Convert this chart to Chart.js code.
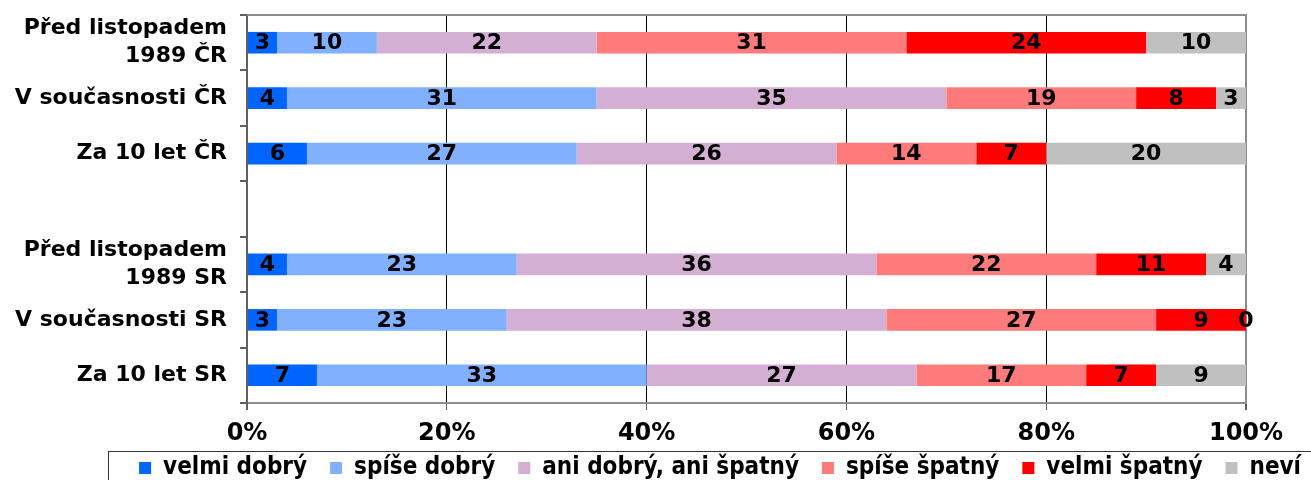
<!DOCTYPE html>
<html>
<head>
<meta charset="utf-8">
<script src="https://cdn.jsdelivr.net/npm/chart.js@4.4.1/dist/chart.umd.min.js"></script>
<style>
  html, body { margin: 0; padding: 0; background: #fff; }
</style>
</head>
<body>
<canvas id="myChart" width="1311" height="480"></canvas>
<script>
// data (percent of respondents)
const categories = [['Před listopadem', '1989 ČR'], 'V současnosti ČR', 'Za 10 let ČR', '',
                    ['Před listopadem', '1989 SR'], 'V současnosti SR', 'Za 10 let SR'];
const seriesNames = ['velmi dobrý', 'spíše dobrý', 'ani dobrý, ani špatný', 'spíše špatný', 'velmi špatný', 'neví'];
const velmiDobry  = [3, 4, 6, null, 4, 3, 7];
const spiseDobry  = [10, 31, 27, null, 23, 23, 33];
const aniAni      = [22, 35, 26, null, 36, 38, 27];
const spiseSpatny = [31, 19, 14, null, 22, 27, 17];
const velmiSpatny = [24, 8, 7, null, 11, 9, 7];
const nevi        = [10, 3, 20, null, 4, 0, 9];
const tickLabels  = ['0%', '20%', '40%', '60%', '80%', '100%'];

const colors = ['#0064ff', '#80b0ff', '#d3afd3', '#ff7b7b', '#ff0000', '#c0c0c0'];
const values = [velmiDobry, spiseDobry, aniAni, spiseSpatny, velmiSpatny, nevi];

const fontFamily = "'DejaVu Sans', Verdana, sans-serif";

// numbers in the middle of every segment
const barLabels = {
    id: 'barLabels',
    afterDatasetsDraw(chart) {
        const ctx = chart.ctx;
        ctx.save();
        ctx.font = 'bold 22px ' + fontFamily;
        ctx.fillStyle = '#000';
        ctx.textAlign = 'center';
        ctx.textBaseline = 'middle';
        chart.data.datasets.forEach((ds, i) => {
            const meta = chart.getDatasetMeta(i);
            meta.data.forEach((bar, j) => {
                const v = ds.data[j];
                if (v === null || v === undefined) return;
                ctx.fillText(String(v), (bar.x + bar.base) / 2, bar.y + 1);
            });
        });
        ctx.restore();
    }
};

// top border of the plot, legend placement and the frame round the legend
const frame = {
    id: 'frame',
    afterLayout(chart) {
        const lg = chart.legend;
        const dy = 433 - lg.top;
        lg.top += dy;
        lg.bottom += dy;
        lg.left += 78;
        lg.right += 78;
    },
    afterDraw(chart) {
        const ctx = chart.ctx;
        const a = chart.chartArea;
        ctx.save();
        ctx.strokeStyle = '#8c8c8c';
        ctx.lineWidth = 2;
        ctx.beginPath();
        ctx.moveTo(a.left, a.top);
        ctx.lineTo(a.right + 1, a.top);
        ctx.stroke();
        ctx.strokeStyle = '#333';
        ctx.lineWidth = 1;
        ctx.strokeRect(108.5, 451.5, 1300, 60);
        ctx.restore();
    }
};

const ctx = document.getElementById('myChart');
new Chart(ctx, {
    type: 'bar',
    data: {
        labels: categories,
        datasets: seriesNames.map((name, i) => ({
            label: name,
            data: values[i],
            backgroundColor: colors[i],
            borderWidth: 0,
            barPercentage: 0.39,
            categoryPercentage: 1
        }))
    },
    options: {
        indexAxis: 'y',
        responsive: false,
        devicePixelRatio: 1,
        animation: false,
        layout: { padding: { left: 0, right: 65, top: 15, bottom: -25 } },
        scales: {
            x: {
                stacked: true,
                min: 0,
                max: 100,
                ticks: {
                    stepSize: 20,
                    padding: 9,
                    color: '#000',
                    font: { family: fontFamily, size: 24, weight: 'bold' },
                    callback: (v) => tickLabels[v / 20]
                },
                grid: {
                    color: (c) => c.index === 5 ? '#8c8c8c' : (c.index === 0 ? '#606060' : '#000'),
                    lineWidth: (c) => (c.index === 5 || c.index === 0) ? 2 : 1,
                    tickColor: '#606060',
                    tickLength: 7
                },
                border: { color: '#8c8c8c', width: 2 },
                afterFit(scale) { scale.height = 45; }
            },
            y: {
                stacked: true,
                ticks: {
                    autoSkip: false,
                    padding: 13,
                    color: '#000',
                    font: { family: fontFamily, size: 22, weight: 'bold', lineHeight: 1.27 }
                },
                grid: {
                    offset: true,
                    drawOnChartArea: false,
                    color: '#606060',
                    lineWidth: 2,
                    tickLength: 7
                },
                border: { color: '#606060', width: 2 },
                afterFit(scale) {
                    scale.width = 247;
                    scale.paddingTop = 0;
                    scale.paddingBottom = 0;
                }
            }
        },
        plugins: {
            tooltip: { enabled: false },
            legend: {
                position: 'bottom',
                align: 'end',
                labels: {
                    boxWidth: 12,
                    boxHeight: 12,
                    padding: 23,
                    color: '#000',
                    font: { family: "'DejaVu Sans Condensed', 'DejaVu Sans', sans-serif", size: 24, weight: 'bold' }
                }
            }
        }
    },
    plugins: [barLabels, frame]
});
</script>
</body>
</html>
